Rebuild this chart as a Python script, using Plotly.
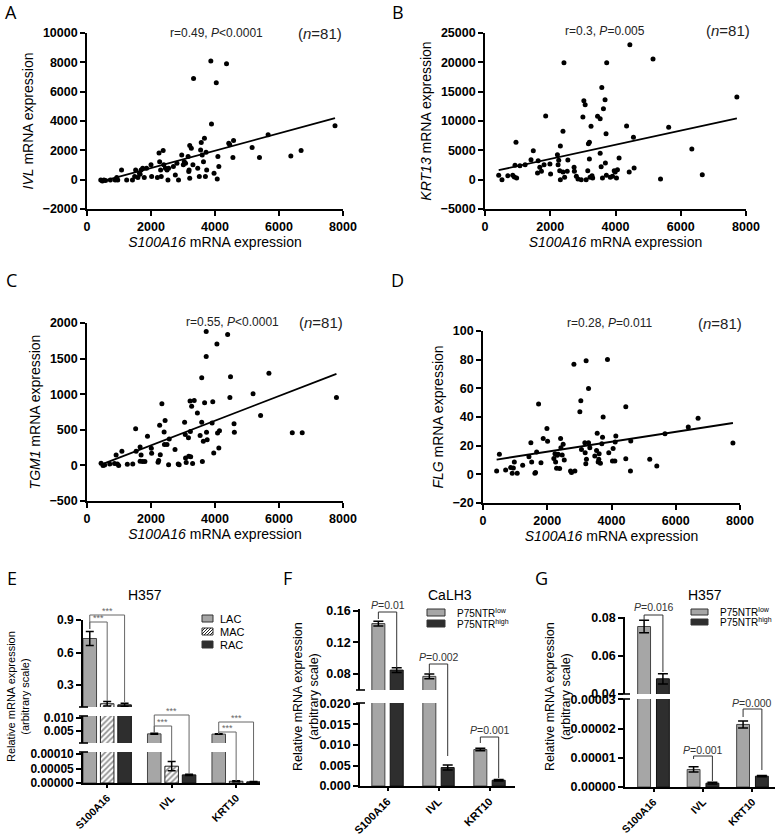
import numpy as np
import plotly.graph_objects as go

W, H = 778, 836
FONT = 'Liberation Sans'
LETTER_FONT = 'Open Sans'

# ---------------- scatter data (panels A-D) ----------------
a_x = [430, 480, 530, 580, 730, 880, 910, 930, 960, 1080, 1240, 1420, 1490, 1520, 1590, 1640, 1660, 1690,
       1740, 1790, 1860, 2000, 2020, 2200, 2250, 2270, 2300, 2320, 2380, 2400, 2450, 2500, 2530, 2550, 2700,
       2760, 2810, 2860, 2960, 3010, 3040, 3080, 3160, 3180, 3190, 3210, 3210, 3260, 3310, 3330, 3460, 3510,
       3550, 3570, 3600, 3640, 3670, 3700, 3720, 3740, 3870, 3890, 3970, 4040, 4070, 4090, 4120, 4360, 4430,
       4460, 4560, 4580, 5160, 5390, 5660, 6370, 6690, 7750]
a_y = [-20, -90, -20, -50, -20, -20, 50, 140, -20, 660, -20, -20, 210, 660, 140, 430, 370, 660, 780, 140,
       780, 1010, 210, 140, 1810, 1230, 660, 210, 1990, 1010, 780, 660, -20, 780, 890, 320, 1120, -20, 1690,
       1010, 1230, 1120, 1580, 550, 660, 90, 2330, 2150, 1010, 6900, 780, 210, 2030, 2540, 1690, 1230, 2830,
       210, 1870, 660, 8090, 3790, 430, 6610, 50, 1580, 890, 7910, 2490, 2380, 1510, 2670, 2190, 1510, 3060,
       1620, 1990, 3680]

b_x = [420, 520, 700, 850, 900, 950, 920, 970, 1070, 1230, 1410, 1480, 1610, 1630, 1680, 1730, 1810, 1860,
       1990, 2010, 2220, 2240, 2260, 2290, 2310, 2390, 2310, 2390, 2420, 2440, 2520, 2540, 2730, 2740, 2800,
       2850, 2950, 3000, 3030, 3070, 3100, 3150, 3170, 3200, 3200, 3220, 3250, 3280, 3300, 3450, 3530, 3530,
       3560, 3580, 3600, 3630, 3680, 3690, 3710, 3720, 3730, 3840, 3910, 3960, 3990, 4030, 4060, 4110, 4340,
       4420, 4440, 4550, 4570, 5150, 5380, 5630, 6340, 6660, 7720]
b_y = [740, 0, 680, 740, 450, 6360, 2440, 280, 2390, 2560, 3410, 4940, 1140, 3240, 2100, 1420, 2560, 10850,
       2670, 970, 4260, 2560, 3290, 1530, 0, 8240, 5740, 1310, 19940, 400, 1420, 3350, 2100, 1420, 570, 110,
       0, 10680, 13460, 12780, 0, 1530, 6130, 6360, 3520, 400, 9090, 680, 280, 10790, 10390, 4490, 2220,
       15730, 280, 12100, 13630, 2840, 7840, 740, 19940, 400, 570, 1530, 1310, 280, 1700, 3690, 9150, 1310,
       23000, 7210, 1990, 20560, 110, 8920, 5230, 850, 14090]

c_x = [440, 500, 550, 710, 860, 910, 950, 990, 1090, 1260, 1430, 1520, 1535, 1660, 1660, 1690, 1740, 1810,
       1890, 2010, 2020, 2220, 2240, 2270, 2290, 2340, 2410, 2420, 2440, 2500, 2550, 2570, 2750, 2850, 2880,
       3050, 3070, 3080, 3100, 3170, 3180, 3220, 3230, 3240, 3270, 3300, 3350, 3450, 3535, 3585, 3585, 3605,
       3635, 3675, 3725, 3725, 3735, 3755, 3910, 3930, 3960, 4060, 4080, 4120, 4140, 4395, 4465, 4485, 4595,
       4605, 5190, 5425, 5685, 6415, 6725, 7795]
c_y = [30, 0, 5, 20, 25, 145, 20, 0, 200, 15, 20, 515, 200, 260, 60, 145, 55, 55, 410, 240, 170, 45, 70,
       565, 150, 865, 470, 295, 630, 295, 10, 370, 225, 20, 10, 605, 435, 105, 40, 390, 130, 905, 475, 120,
       830, 25, 910, 735, 420, 1230, 605, 55, 340, 880, 1530, 1880, 465, 360, 595, 895, 175, 1705, 455, 245,
       485, 1840, 955, 1245, 585, 465, 1005, 700, 1295, 460, 460, 955]

d_x = [425, 510, 705, 860, 910, 945, 975, 1065, 1235, 1430, 1490, 1515, 1615, 1635, 1670, 1730, 1805, 1875,
       1990, 2010, 2205, 2240, 2260, 2290, 2310, 2340, 2385, 2415, 2425, 2465, 2495, 2530, 2725, 2755, 2830,
       2860, 3015, 3045, 3065, 3170, 3180, 3200, 3210, 3220, 3285, 3285, 3325, 3480, 3535, 3555, 3585, 3605,
       3615, 3655, 3700, 3720, 3740, 3875, 3915, 4030, 4050, 4105, 4115, 4135, 4445, 4445, 4590, 4600, 5190,
       5410, 5665, 6390, 6695, 7780]
d_y = [2.3, 14, 3, 4.7, 0.7, 4.5, 8.6, 0.7, 6.3, 12.3, 22, 8.6, 0.7, 1.2, 15.6, 49, 8, 25, 32, 23, 11, 14.4,
       8.6, 4.2, 13.3, 14, 4, 25, 18.6, 13.5, 21, 10, 2.3, 1.2, 76.8, 2.3, 43.7, 51.4, 17.4, 22, 15, 7.4,
       79.3, 10.5, 22, 59.8, 18.6, 12.8, 16.7, 28.6, 8.6, 10.5, 14.4, 7.7, 21.4, 25.8, 40, 80.2, 15.1, 9.3,
       18.1, 9.3, 22.6, 26.7, 47.2, 10.9, 2.3, 23.3, 10.5, 5.8, 28.4, 33, 39.1, 21.9]

# ---------------- bar data (panels E-G) ----------------
genes = ['S100A16', 'IVL', 'KRT10']

e_lac = [0.73, 0.0039, 0.0038]
e_lac_err = [0.065, 0.0002, 0.0001]
e_mac = [0.13, 0.000058, 0.000006]
e_mac_err = [0.02, 0.000016, 0.000002]
e_rac = [0.12, 0.000028, 0.000004]
e_rac_err = [0.015, 0.000002, 0.000001]

f_low = [0.144, 0.077, 0.0089]
f_low_err = [0.003, 0.003, 0.0003]
f_high = [0.085, 0.0045, 0.0014]
f_high_err = [0.003, 0.0006, 0.0002]

g_low = [0.0755, 0.0000060, 0.0000214]
g_low_err = [0.0033, 0.0000009, 0.0000012]
g_high = [0.048, 0.0000013, 0.0000037]
g_high_err = [0.0027, 0.0000003, 0.0000002]

fig = go.Figure()
axes = {}
shapes = []
annotations = []


def px(v):
    return v / W


def py(v):
    return 1 - v / H


def refs(n):
    s = '' if n == 1 else str(n)
    return 'x' + s, 'y' + s, 'xaxis' + s, 'yaxis' + s


def tfont(size, bold=True, color='black', family=FONT):
    return dict(family=family, size=size, color=color, weight='bold' if bold else 'normal')


BASE_AX = dict(showline=True, linecolor='black', linewidth=1.6, ticks='outside', ticklen=5,
               tickwidth=1.5, tickcolor='black', showgrid=False, zeroline=False, automargin=False)


def text(x, y, s, size, xref='paper', xanchor='center', angle=0, bold=False, color='black', family=FONT):
    annotations.append(dict(x=x, y=y, xref=xref, yref='paper', text=s, showarrow=False,
                            xanchor=xanchor, yanchor='middle', textangle=angle,
                            font=tfont(size, bold, color, family)))


# ---------------- scatter panels ----------------
def scatter_panel(n, xs, ys, box, yrange, ydtick, gene, stat, stat_x, n_x, text_y):
    x0, x1, y0, y1 = box
    xr, yr, xk, yk = refs(n)
    fig.add_trace(go.Scatter(x=xs, y=ys, mode='markers', marker=dict(color='black', size=5),
                             xaxis=xr, yaxis=yr, showlegend=False))
    coef = np.polyfit(xs, ys, 1)
    lx = np.array([min(xs), max(xs)])
    fig.add_trace(go.Scatter(x=lx, y=np.polyval(coef, lx), mode='lines',
                             line=dict(color='black', width=1.8), xaxis=xr, yaxis=yr, showlegend=False))
    axes[xk] = dict(domain=[px(x0), px(x1)], anchor=yr, range=[0, 8000], dtick=2000, tickformat='d',
                    tickfont=tfont(12.5),
                    title=dict(text='<i>S100A16</i> mRNA expression', font=tfont(14, False), standoff=4),
                    **BASE_AX)
    axes[yk] = dict(domain=[py(y1), py(y0)], anchor=xr, range=yrange, dtick=ydtick, tickformat='d',
                    tickfont=tfont(12.5),
                    title=dict(text=f'<i>{gene}</i> mRNA expression', font=tfont(14, False), standoff=6),
                    **BASE_AX)
    text(px(stat_x), py(text_y), stat, 12, color='#222')
    text(px(n_x), py(text_y), '(<i>n</i>=81)', 15, color='#222')


scatter_panel(1, a_x, a_y, (87, 343, 33, 209), [-2000, 10000], 2000, 'IVL',
              'r=0.49, <i>P</i><0.0001', 217, 320, 33)
scatter_panel(2, b_x, b_y, (485, 746, 33, 209), [-5000, 25000], 5000, 'KRT13',
              'r=0.3, <i>P</i>=0.005', 605, 728, 31)
scatter_panel(3, c_x, c_y, (87, 343, 323, 501), [-500, 2000], 500, 'TGM1',
              'r=0.55, <i>P</i><0.0001', 232, 321, 322)
scatter_panel(4, d_x, d_y, (483, 740, 331, 503), [-20, 100], 20, 'FLG',
              'r=0.28, <i>P</i>=0.011', 610, 720, 323)


# ---------------- bar panels ----------------
def bar_panel(n0, x_left, x_right, xrange, segs, series, width, err_w, tick_size, cat_size):
    for i, seg in enumerate(segs):
        n = n0 + i
        xr, yr, xk, yk = refs(n)
        for s in series:
            fig.add_trace(go.Bar(
                x=[k + s['shift'] for k in range(len(genes))], y=s['vals'], width=width,
                marker=s['marker'], name=s['name'], showlegend=False,
                error_y=dict(type='data', array=s['errs'], color='black', thickness=1.5, width=err_w),
                xaxis=xr, yaxis=yr))
        xa = dict(BASE_AX, domain=[px(x_left), px(x_right)], anchor=yr, range=xrange)
        if i == 0:
            xa.update(tickvals=list(range(len(genes))), ticktext=genes, tickangle=-45,
                      tickfont=tfont(cat_size), ticklen=3)
        else:
            xa.update(visible=False)
        axes[xk] = xa
        axes[yk] = dict(BASE_AX, domain=[py(seg['bottom']), py(seg['top'])], anchor=xr,
                        range=seg['range'], tickvals=seg['ticks'], tickformat=seg['fmt'],
                        tickfont=tfont(tick_size))
    # break marks at segment ends
    for seg in segs[1:]:
        shapes.append(dict(type='line', xref='paper', yref='paper', x0=px(x_left - 4),
                           x1=px(x_left + 5), y0=py(seg['bottom']), y1=py(seg['bottom']),
                           line=dict(color='black', width=1.6)))
    for seg in segs[:-1]:
        shapes.append(dict(type='line', xref='paper', yref='paper', x0=px(x_left - 4),
                           x1=px(x_left + 5), y0=py(seg['top']), y1=py(seg['top']),
                           line=dict(color='black', width=1.6)))


GRAY = dict(color='#a6a6a6', line=dict(color='#444', width=1))
DARK = dict(color='#2e2e2e', line=dict(color='#111', width=1))
HATCH = dict(color='white', line=dict(color='#222', width=1),
             pattern=dict(shape='/', fgcolor='#222', bgcolor='white', size=4, solidity=0.45))

# E
bar_panel(5, 83, 260, [-0.375, 2.37],
          [dict(top=752, bottom=783, range=[0, 0.000107], ticks=[0, 0.00005, 0.0001], fmt='.5f'),
           dict(top=716, bottom=743, range=[0.00038, 0.01077], ticks=[0.005, 0.010], fmt='.3f'),
           dict(top=620, bottom=707, range=[0.1, 0.9], ticks=[0.3, 0.6, 0.9], fmt='.1f')],
          [dict(name='LAC', vals=e_lac, errs=e_lac_err, shift=-0.27, marker=GRAY),
           dict(name='MAC', vals=e_mac, errs=e_mac_err, shift=0.0, marker=HATCH),
           dict(name='RAC', vals=e_rac, errs=e_rac_err, shift=0.27, marker=DARK)],
          0.21, 4, 12, 10.5)

# F
bar_panel(8, 360, 515, [-0.54, 2.5],
          [dict(top=703, bottom=786, range=[0, 0.02024], ticks=[0, 0.005, 0.01, 0.015, 0.02], fmt='.3f'),
           dict(top=609, bottom=690, range=[0.0597, 0.1625], ticks=[0.08, 0.12, 0.16], fmt='.2f')],
          [dict(name='P75NTR low', vals=f_low, errs=f_low_err, shift=-0.18, marker=GRAY),
           dict(name='P75NTR high', vals=f_high, errs=f_high_err, shift=0.18, marker=DARK)],
          0.255, 5, 12.5, 11)

# G
bar_panel(10, 625, 775, [-0.576, 2.455],
          [dict(top=699, bottom=787, range=[0, 0.0000301], ticks=[0, 0.00001, 0.00002, 0.00003], fmt='.5f'),
           dict(top=617, bottom=694, range=[0.04, 0.0805], ticks=[0.04, 0.06, 0.08], fmt='.2f')],
          [dict(name='P75NTR low', vals=g_low, errs=g_low_err, shift=-0.19, marker=GRAY),
           dict(name='P75NTR high', vals=g_high, errs=g_high_err, shift=0.19, marker=DARK)],
          0.26, 5, 12.5, 10.5)


# significance brackets
def bracket(xref, xa, xb, y_line, y_a, y_b, label, label_y, size, color):
    shapes.append(dict(type='path', xref=xref, yref='paper',
                       path=f'M {xa},{py(y_a)} L {xa},{py(y_line)} L {xb},{py(y_line)} L {xb},{py(y_b)}',
                       line=dict(color=color, width=1)))
    text((xa + xb) / 2, py(label_y), label, size, xref=xref, color=color)


E_C = '#666'
bracket('x5', -0.27, 0.0, 622, 629, 701, '***', 618, 9, E_C)
bracket('x5', -0.27, 0.27, 615, 629, 702, '***', 611, 9, E_C)
bracket('x5', 0.73, 1.0, 726, 733, 761, '***', 722, 9, E_C)
bracket('x5', 0.73, 1.27, 715, 733, 774, '***', 711, 9, E_C)
bracket('x5', 1.73, 2.0, 732, 734, 781, '***', 728, 9, E_C)
bracket('x5', 1.73, 2.27, 722, 734, 781, '***', 718, 9, E_C)

P_C = '#333'
bracket('x8', -0.18, 0.18, 612, 619, 668, '<i>P</i>=0.01', 605, 10.5, P_C)
bracket('x8', 0.82, 1.18, 664, 674, 756, '<i>P</i>=0.002', 657, 10.5, P_C)
bracket('x8', 1.82, 2.18, 737, 743, 778, '<i>P</i>=0.001', 730, 10.5, P_C)

bracket('x10', -0.19, 0.19, 615, 620, 672, '<i>P</i>=0.016', 607, 10.5, P_C)
bracket('x10', 0.81, 1.19, 756, 759, 781, '<i>P</i>=0.001', 750, 10.5, P_C)
bracket('x10', 1.81, 2.19, 709, 717, 770, '<i>P</i>=0.000', 703, 10.5, P_C)


# hand-drawn legends
def swatch(x0, x1, y0, y1, fill, hatch=False):
    shapes.append(dict(type='rect', xref='paper', yref='paper', x0=px(x0), x1=px(x1),
                       y0=py(y1), y1=py(y0), fillcolor=fill, line=dict(color='#333', width=1)))
    if hatch:
        h = y1 - y0
        for d in range(-h, x1 - x0, 3):
            sx, sy = x0 + d, y1
            ex, ey = x0 + d + h, y0
            if sx < x0:
                sy -= x0 - sx
                sx = x0
            if ex > x1:
                ey += ex - x1
                ex = x1
            shapes.append(dict(type='line', xref='paper', yref='paper', x0=px(sx), x1=px(ex),
                               y0=py(sy), y1=py(ey), line=dict(color='#222', width=1)))


for (y0, y1, fill, hatch, label) in [(615, 622, '#a6a6a6', False, 'LAC'),
                                     (628, 635, 'white', True, 'MAC'),
                                     (641, 648, '#2e2e2e', False, 'RAC')]:
    swatch(202, 213, y0, y1, fill, hatch)
    text(px(218), py((y0 + y1) / 2), label, 11, xanchor='left')

for (lx0, lx1, tx, ys) in [(427, 445, 455, [(609, 616), (620, 627)]),
                           (691, 708, 718, [(609, 615), (619, 625)])]:
    swatch(lx0, lx1, ys[0][0], ys[0][1], '#a6a6a6')
    swatch(lx0, lx1, ys[1][0], ys[1][1], '#2e2e2e')
    text(px(tx), py(sum(ys[0]) / 2), 'P75NTR<sup>low</sup>', 10, xanchor='left')
    text(px(tx), py(sum(ys[1]) / 2), 'P75NTR<sup>high</sup>', 10, xanchor='left')

# titles and y titles of bar panels
text(px(145), py(595), 'H357', 14)
text(px(450), py(595), 'CaLH3', 14)
text(px(705), py(595), 'H357', 14)
text(px(18), py(697), 'Relative mRNA expression<br>(arbitrary scale)', 11, angle=-90)
text(px(306), py(697), 'Relative mRNA expression<br>(arbitrary scale)', 12.5, angle=-90)
text(px(558), py(697), 'Relative mRNA expression<br>(arbitrary scale)', 12.5, angle=-90)

# panel letters
for letter, lx, ly in [('A', 11, 12), ('B', 398, 12), ('C', 11, 280), ('D', 398, 280),
                       ('E', 12, 578), ('F', 287, 578), ('G', 541, 578)]:
    text(px(lx), py(ly), letter, 18, family=LETTER_FONT)

fig.update_layout(
    width=W, height=H,
    margin=dict(l=0, r=0, t=0, b=0, autoexpand=False),
    paper_bgcolor='white', plot_bgcolor='white',
    barmode='overlay',
    showlegend=False,
    font=dict(family=FONT, color='black'),
    shapes=shapes,
    annotations=annotations,
    **axes
)

# page body margin removed so the 778x836 figure fills the window exactly
fig.write_html("out.html", config={'displayModeBar': False},
               post_script="document.body.style.margin='0';")
